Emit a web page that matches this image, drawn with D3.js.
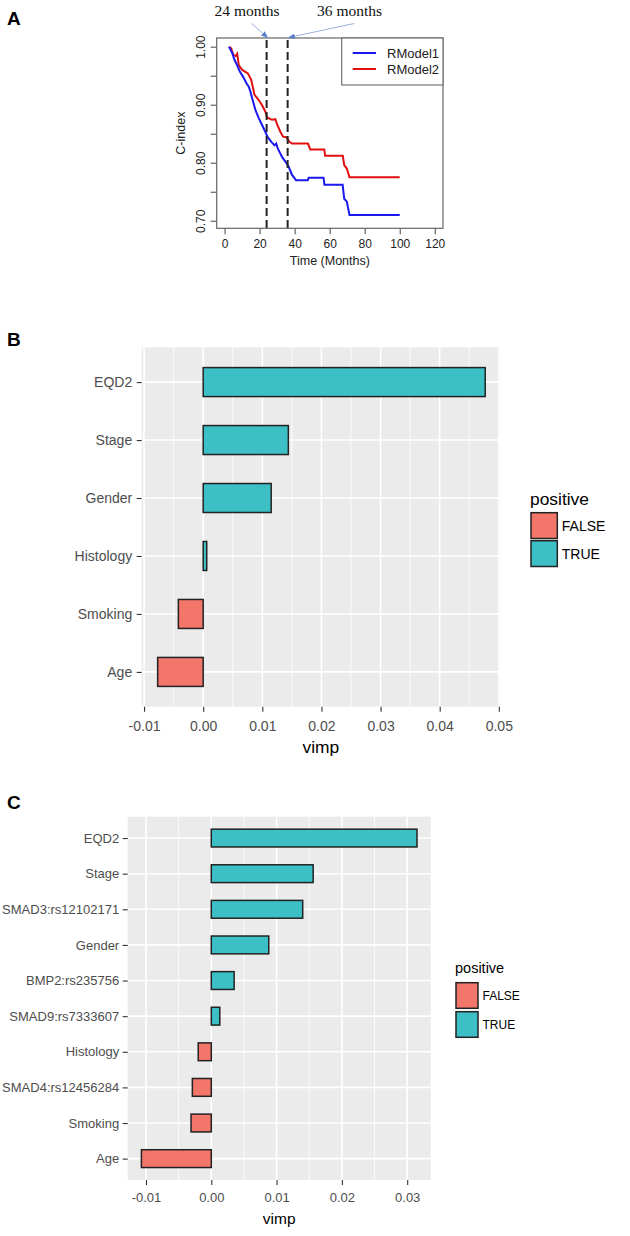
<!DOCTYPE html>
<html><head><meta charset="utf-8">
<script src="https://cdn.jsdelivr.net/npm/d3@7"></script>
<style>
body{margin:0;background:#fff}
svg{display:block}
</style>
</head><body>
<svg id="c" width="630" height="1236" font-family="Liberation Sans, Arial, sans-serif"></svg>
<script>
// ---------------- DATA ----------------
// Panel A: time-dependent C-index
const timeModel1   = [2.5,4.4,5.7,7.2,8.7,10.6,12.5,13.8,14.8,16.3,17.6,19.5,21.4,23.3,24.6,26.7,28.5,29.5,30.3,32.8,34.7,36.6,38.5,40.8,47.5,48,56.5,57,67.4,68.3,69.8,71.3,100];
const cindexModel1 = [1.000,0.989,0.977,0.968,0.957,0.948,0.937,0.931,0.922,0.905,0.891,0.877,0.865,0.853,0.844,0.836,0.830,0.833,0.825,0.810,0.802,0.793,0.779,0.770,0.770,0.774,0.774,0.762,0.762,0.738,0.733,0.710,0.710];
const timeModel2   = [2.5,3.8,4.9,6.3,7.2,8.1,10.1,13.3,15.2,17.1,19.5,21.4,23.3,24.3,27.1,29,30,31.9,33.4,35.3,37,38.5,47.6,48.9,56.9,57.4,67.5,68.3,69.8,71.3,100];
const cindexModel2 = [1.000,0.997,0.986,0.984,0.988,0.968,0.960,0.954,0.943,0.917,0.908,0.899,0.888,0.878,0.874,0.875,0.866,0.853,0.845,0.844,0.836,0.833,0.833,0.823,0.823,0.812,0.812,0.796,0.790,0.775,0.775];
const modelNames   = ["RModel1","RModel2"];
const markerMonths = [24,36];
const markerLabels = ["24 months","36 months"];
const xTicksA = [0,20,40,60,80,100,120];
const yTicksA = [0.70,0.75,0.80,0.85,0.90,0.95,1.00];
const yLabelsA = [0.70,0.80,0.90,1.00];

// Panel B: variable importance (clinical)
const varsB = ["EQD2","Stage","Gender","Histology","Smoking","Age"];
const vimpB = [0.0477,0.0144,0.0115,0.0006,-0.0042,-0.0077];
const xTicksB = [-0.01,0.00,0.01,0.02,0.03,0.04,0.05];

// Panel C: variable importance (clinical + SNPs)
const varsC = ["EQD2","Stage","SMAD3:rs12102171","Gender","BMP2:rs235756","SMAD9:rs7333607","Histology","SMAD4:rs12456284","Smoking","Age"];
const vimpC = [0.0315,0.0156,0.0140,0.0088,0.0035,0.0013,-0.0020,-0.0029,-0.0031,-0.0107];
const xTicksC = [-0.01,0.00,0.01,0.02,0.03];

const legendKeys = ["FALSE","TRUE"];

// ---------------- DRAW ----------------
const SANS="Liberation Sans, Arial, sans-serif";
const SERIF="Liberation Serif, Times New Roman, serif";
const svg = d3.select("#c");
svg.append("rect").attr("width",630).attr("height",1236).attr("fill","#fff");

function panelLabel(t,x,y){
  svg.append("text").attr("x",x).attr("y",y).text(t)
    .attr("font-size",19).attr("font-weight","bold").attr("fill","#000");
}
panelLabel("A",7,25);
panelLabel("B",7,346);
panelLabel("C",7,809);

const fmt2 = d => d3.format(".2f")(d).replace("\u2212","-");

// ---- Panel A ----
(function(){
  const L=216.7,R=443,T=38,B=228.3;
  const x=d3.scaleLinear().domain([-4.5,124.7]).range([L,R]);
  const y=d3.scaleLinear().domain([0.687,1.015]).range([B,T]);
  const g=svg.append("g");
  const defs=svg.append("defs");
  defs.append("marker").attr("id","arr").attr("viewBox","0 0 10 10")
    .attr("refX",9).attr("refY",5).attr("markerWidth",7).attr("markerHeight",7)
    .attr("orient","auto-start-reverse")
    .append("path").attr("d","M0,1 L10,5 L0,9 Z").attr("fill","#5a7fc8");

  // axes
  const ax=g.append("g").attr("transform",`translate(0,${B})`)
    .call(d3.axisBottom(x).tickValues(xTicksA).tickSize(6).tickSizeOuter(0).tickPadding(5));
  ax.attr("font-family",SANS);
  ax.select(".domain").remove();
  ax.selectAll("line").attr("stroke","#555").attr("stroke-width",1.1);
  ax.selectAll("text").attr("font-size",12).attr("fill","#222");
  const ay=g.append("g").attr("transform",`translate(${L},0)`)
    .call(d3.axisLeft(y).tickValues(yTicksA).tickSize(6).tickSizeOuter(0)
      .tickFormat(d=>yLabelsA.some(v=>Math.abs(v-d)<1e-9)?fmt2(d):""));
  ay.attr("font-family",SANS);
  ay.select(".domain").remove();
  ay.selectAll("line").attr("stroke","#555").attr("stroke-width",1.1);
  ay.selectAll("text").attr("x",0).attr("y",0).attr("dy",0)
    .attr("transform","translate(-12,0) rotate(-90)")
    .attr("text-anchor","middle").attr("font-size",12).attr("fill","#222");

  g.append("text").attr("x",(L+R)/2).attr("y",265).attr("text-anchor","middle")
    .attr("font-size",12.5).attr("fill","#222").text("Time (Months)");
  g.append("text").attr("transform",`translate(184.5,${(T+B)/2}) rotate(-90)`)
    .attr("text-anchor","middle").attr("font-size",12.5).attr("fill","#222").text("C-index");

  // lines
  const line=d3.line().x(d=>x(d[0])).y(d=>y(d[1]));
  const d1=timeModel1.map((t,i)=>[t,cindexModel1[i]]);
  const d2=timeModel2.map((t,i)=>[t,cindexModel2[i]]);
  g.append("path").attr("d",line(d2)).attr("fill","none").attr("stroke","#e01010").attr("stroke-width",2);
  g.append("path").attr("d",line(d1)).attr("fill","none").attr("stroke","#1a1af0").attr("stroke-width",2);

  // dashed markers
  markerMonths.forEach(m=>{
    g.append("line").attr("x1",x(m)).attr("x2",x(m)).attr("y1",T+2).attr("y2",B)
      .attr("stroke","#222").attr("stroke-width",2).attr("stroke-dasharray","8,4");
  });

  // box
  g.append("rect").attr("x",L).attr("y",T).attr("width",R-L).attr("height",B-T)
    .attr("fill","none").attr("stroke","#666").attr("stroke-width",1.2);

  // legend
  const lg=g.append("g");
  lg.append("rect").attr("x",341.7).attr("y",T).attr("width",R-341.7).attr("height",47)
    .attr("fill","#fff").attr("stroke","#666").attr("stroke-width",1.1);
  const colsA=["#1a1af0","#e01010"];
  modelNames.forEach((n,i)=>{
    const yy=53+i*16;
    lg.append("line").attr("x1",352.7).attr("x2",376).attr("y1",yy).attr("y2",yy)
      .attr("stroke",colsA[i]).attr("stroke-width",2);
    lg.append("text").attr("x",387).attr("y",yy).attr("dy","0.35em")
      .attr("font-size",13).attr("fill","#222").text(n);
  });

  // annotations
  const labelOffsets=[-19.6,62];
  markerMonths.forEach((m,i)=>{
    const cx=x(m)+labelOffsets[i];
    g.append("text").attr("x",cx).attr("y",15.5).attr("text-anchor","middle")
      .attr("font-family",SERIF)
      .attr("font-size",15.5).attr("fill","#111").text(markerLabels[i]);
    g.append("line").attr("x1",cx+4.5).attr("y1",23.5).attr("x2",x(m)+1).attr("y2",37.5)
      .attr("stroke","#9ab2dc").attr("stroke-width",1).attr("marker-end","url(#arr)");
  });
})();

// ---- ggplot-style bar panels ----
const FILL={FALSE:"#F3766B",TRUE:"#3CBFC5"};
function vimpPanel(o){
  const {vars,vals,ticks,L,R,T,B,dom,fs,titleFs,tickPadX,tickPadY,vimpY,leg}=o;
  const g=svg.append("g");
  const x=d3.scaleLinear().domain(dom).range([L,R]);
  const y=d3.scalePoint().domain(vars).range([T,B]).padding(0.6);
  const bh=y.step()*0.5;
  g.append("rect").attr("x",L).attr("y",T).attr("width",R-L).attr("height",B-T).attr("fill","#EBEBEB");
  // minor grid
  const minor=[];
  for(let i=0;i<ticks.length-1;i++) minor.push((ticks[i]+ticks[i+1])/2);
  const step=ticks[1]-ticks[0];
  minor.push(ticks[0]-step/2, ticks[ticks.length-1]+step/2);
  minor.filter(v=>v>=dom[0]&&v<=dom[1]).forEach(v=>{
    g.append("line").attr("x1",x(v)).attr("x2",x(v)).attr("y1",T).attr("y2",B)
      .attr("stroke","#fff").attr("stroke-width",0.8);
  });
  ticks.filter(v=>v>=dom[0]&&v<=dom[1]).forEach(v=>{
    g.append("line").attr("x1",x(v)).attr("x2",x(v)).attr("y1",T).attr("y2",B)
      .attr("stroke","#fff").attr("stroke-width",1.6);
  });
  vars.forEach(v=>{
    g.append("line").attr("x1",L).attr("x2",R).attr("y1",y(v)).attr("y2",y(v))
      .attr("stroke","#fff").attr("stroke-width",1.6);
  });
  // bars
  g.selectAll(".bar").data(vars.map((v,i)=>({v,val:vals[i]}))).enter().append("rect")
    .attr("x",d=>x(Math.min(0,d.val))).attr("width",d=>Math.abs(x(d.val)-x(0)))
    .attr("y",d=>y(d.v)-bh/2).attr("height",bh)
    .attr("fill",d=>d.val>0?FILL.TRUE:FILL.FALSE)
    .attr("stroke","#222").attr("stroke-width",1.5);
  // axes
  const ax=g.append("g").attr("transform",`translate(0,${B})`)
    .call(d3.axisBottom(x).tickValues(ticks).tickSize(5).tickSizeOuter(0).tickPadding(tickPadX).tickFormat(fmt2));
  ax.attr("font-family",SANS);
  ax.select(".domain").remove();
  ax.selectAll("line").attr("stroke","#333").attr("stroke-width",1.1);
  ax.selectAll("text").attr("font-size",fs).attr("fill","#4D4D4D");
  const ay=g.append("g").attr("transform",`translate(${L},0)`)
    .call(d3.axisLeft(y).tickSize(5).tickSizeOuter(0).tickPadding(tickPadY));
  ay.attr("font-family",SANS);
  ay.select(".domain").remove();
  ay.selectAll("line").attr("stroke","#333").attr("stroke-width",1.1);
  ay.selectAll("text").attr("font-size",fs).attr("fill","#4D4D4D");
  g.append("text").attr("x",(L+R)/2).attr("y",vimpY).attr("text-anchor","middle")
    .attr("font-size",titleFs).attr("fill","#000").text("vimp");
  // legend
  g.append("text").attr("x",leg.x).attr("y",leg.titleY).attr("font-size",leg.titleFs)
    .attr("fill","#000").text("positive");
  legendKeys.forEach((k,i)=>{
    const ky=leg.keyY+i*(leg.kh+leg.gap);
    g.append("rect").attr("x",leg.x+1).attr("y",ky).attr("width",leg.kw).attr("height",leg.kh)
      .attr("fill",FILL[k]).attr("stroke","#222").attr("stroke-width",1.5);
    g.append("text").attr("x",leg.x+1+leg.kw+4.5).attr("y",ky+leg.kh/2).attr("dy","0.35em")
      .attr("font-size",leg.fs).attr("fill","#000").text(k);
  });
}

vimpPanel({vars:varsB,vals:vimpB,ticks:xTicksB,L:141.7,R:500,T:347.3,B:706.7,
  dom:[-0.0104,0.0502],fs:14,titleFs:17.4,tickPadX:9,tickPadY:4.5,vimpY:753,
  leg:{x:530,titleY:505,titleFs:17.4,keyY:512.7,kw:26.3,kh:25.8,gap:2.2,fs:14}});

vimpPanel({vars:varsC,vals:vimpC,ticks:xTicksC,L:127.7,R:430.7,T:816.7,B:1180,
  dom:[-0.0128,0.0336],fs:13,titleFs:15.5,tickPadX:8,tickPadY:3.5,vimpY:1223.5,
  leg:{x:455,titleY:973,titleFs:14.5,keyY:982.7,kw:22,kh:25.6,gap:3.4,fs:12}});
</script>
</body></html>
